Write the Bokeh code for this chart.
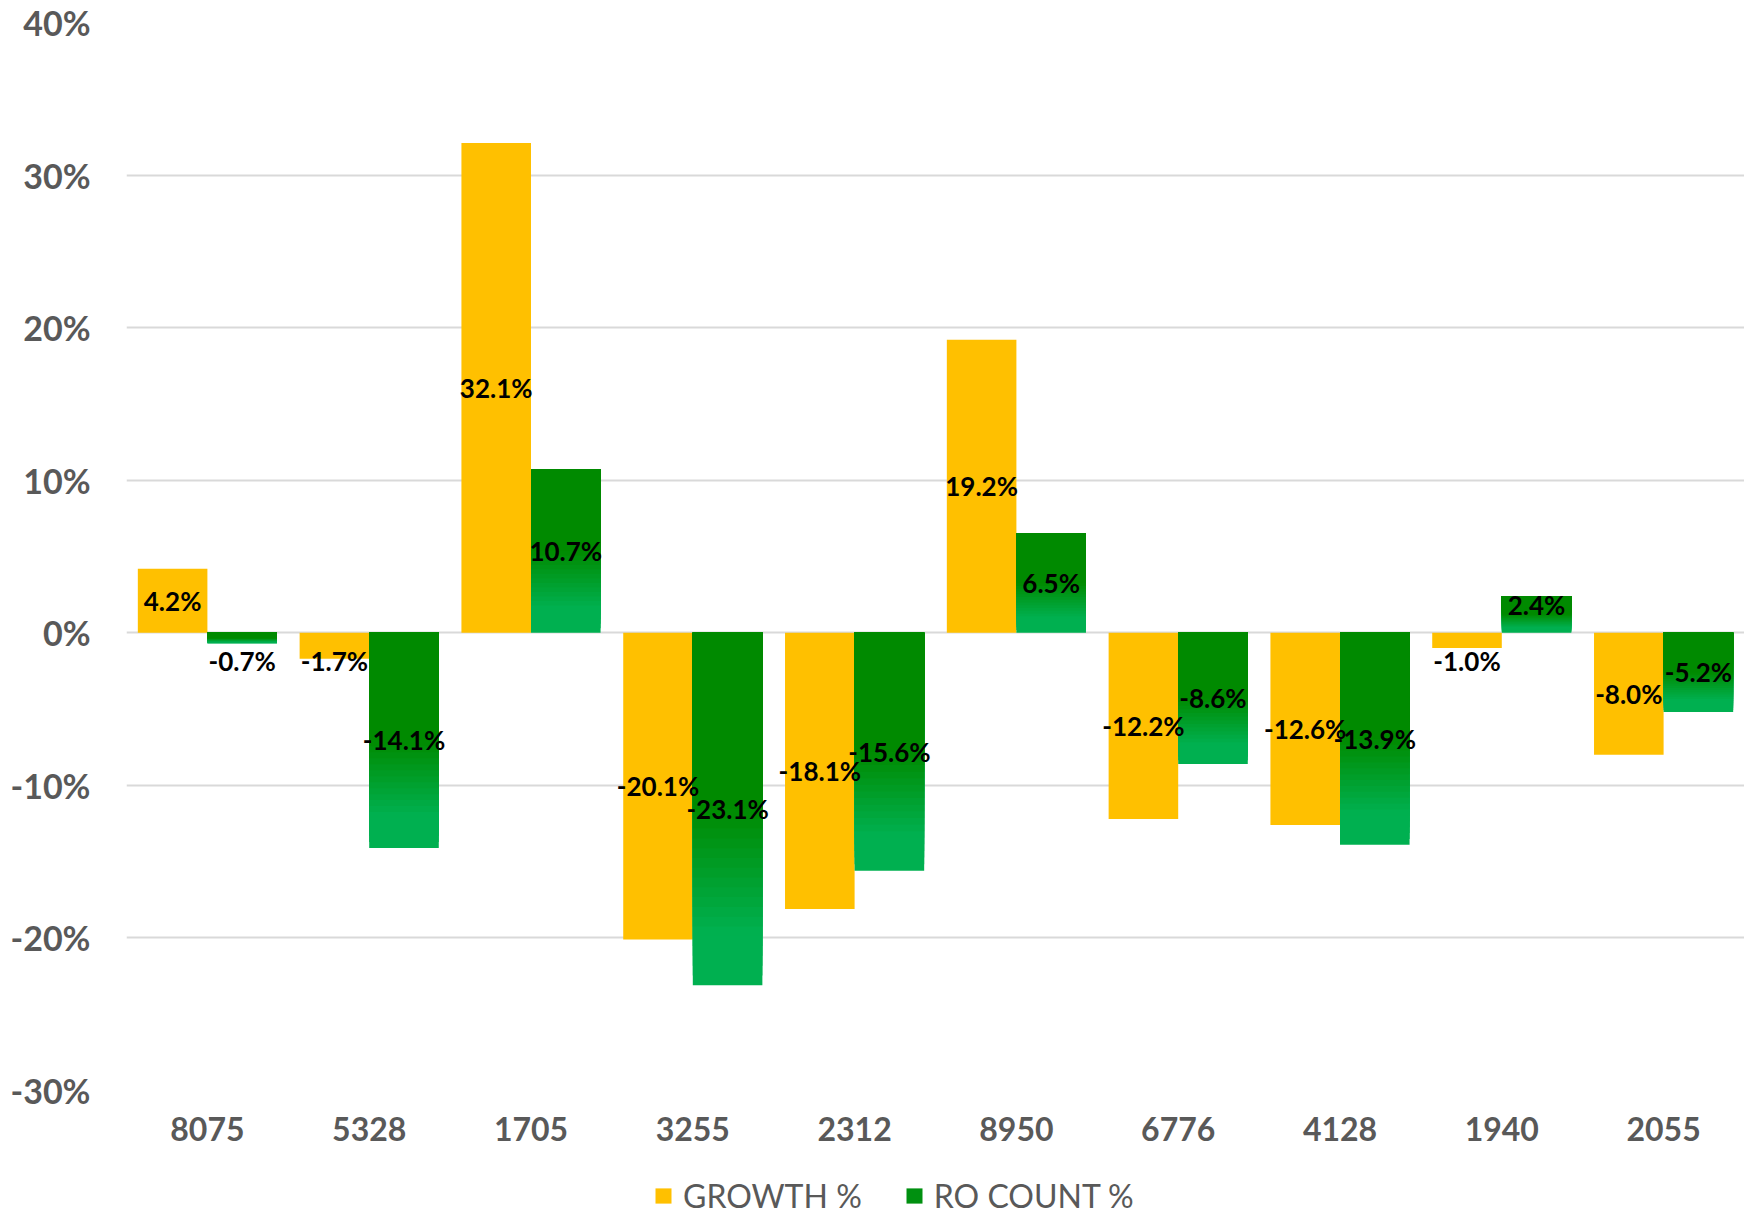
from bokeh.plotting import figure
from bokeh.layouts import column
from bokeh.models import (ColumnDataSource, FactorRange, FixedTicker, PrintfTickFormatter,
                          Legend, LegendItem)
from bokeh.transform import dodge
from bokeh.core.properties import value
from bokeh.embed import file_html
from bokeh.resources import INLINE

categories = ["8075", "5328", "1705", "3255", "2312", "8950", "6776", "4128", "1940", "2055"]
growth_pct = [4.2, -1.7, 32.1, -20.1, -18.1, 19.2, -12.2, -12.6, -1.0, -8.0]
ro_count_pct = [-0.7, -14.1, 10.7, -23.1, -15.6, 6.5, -8.6, -13.9, 2.4, -5.2]
y_ticks = [-30, -20, -10, 0, 10, 20, 30, 40]
series_names = ["GROWTH %", "RO COUNT %"]

YELLOW = "#FFC000"
DARK_GREEN = (0, 138, 0)
LIGHT_GREEN = (0, 176, 80)
AXIS_GRAY = "#595959"
FONT = "Lato"
BAR_W = 0.43
OFFSET = 0.215
MIN_LABEL_OFFSET = 1.85  # keep labels clear of zero line (data units)


def lerp_color(t):
    # gradient top -> bottom: dark until 0.5, then to light at 0.85
    if t <= 0.5:
        f = 0.0
    elif t >= 0.85:
        f = 1.0
    else:
        f = (t - 0.5) / 0.35
    r = round(DARK_GREEN[0] + (LIGHT_GREEN[0] - DARK_GREEN[0]) * f)
    g = round(DARK_GREEN[1] + (LIGHT_GREEN[1] - DARK_GREEN[1]) * f)
    b = round(DARK_GREEN[2] + (LIGHT_GREEN[2] - DARK_GREEN[2]) * f)
    return "#%02x%02x%02x" % (r, g, b)


p = figure(width=1744, height=1160, x_range=FactorRange(*categories), y_range=(-30, 40),
           output_backend="svg", toolbar_location=None,
           min_border_left=126, min_border_right=0, min_border_top=22, min_border_bottom=70)
p.outline_line_color = None
p.background_fill_color = "white"
p.border_fill_color = "white"

# growth bars
gsrc = ColumnDataSource(dict(cat=categories, val=growth_pct))
p.vbar(x=dodge("cat", -OFFSET, range=p.x_range), top="val", bottom=0, width=BAR_W,
       source=gsrc, fill_color=YELLOW, line_color=None)

# RO count bars with vertical gradient: nested rects sharing the top edge,
# drawn longest (lightest) first so no seams appear
N = 36
s_cat, s_top, s_bot, s_col = [], [], [], []
for k in range(N, 0, -1):
    t = k / N
    for c, v in zip(categories, ro_count_pct):
        hi, lo = max(v, 0.0), min(v, 0.0)
        s_cat.append(c)
        s_top.append(hi)
        s_bot.append(hi - (hi - lo) * t)
        s_col.append(lerp_color(t - 0.5 / N))
ssrc = ColumnDataSource(dict(cat=s_cat, top=s_top, bottom=s_bot, color=s_col))
p.vbar(x=dodge("cat", OFFSET, range=p.x_range), top="top", bottom="bottom", width=BAR_W,
       source=ssrc, fill_color="color", line_color=None)


def label_y(v):
    half = v / 2.0
    if abs(half) < MIN_LABEL_OFFSET:
        return MIN_LABEL_OFFSET if v >= 0 else -MIN_LABEL_OFFSET
    return half


lsrc_g = ColumnDataSource(dict(cat=categories, y=[label_y(v) for v in growth_pct],
                               txt=["%.1f%%" % v for v in growth_pct]))
lsrc_r = ColumnDataSource(dict(cat=categories, y=[label_y(v) for v in ro_count_pct],
                               txt=["%.1f%%" % v for v in ro_count_pct]))
for src, off in ((lsrc_g, -OFFSET), (lsrc_r, OFFSET)):
    p.text(x=dodge("cat", off, range=p.x_range), y="y", text="txt", source=src,
           text_align="center", text_baseline="middle", text_color="black",
           text_font=value(FONT), text_font_size="26px", text_font_style="bold")

# axes
p.yaxis.ticker = FixedTicker(ticks=y_ticks)
p.yaxis.formatter = PrintfTickFormatter(format="%d%%")
p.yaxis.axis_line_color = None
p.yaxis.major_tick_line_color = None
p.yaxis.minor_tick_line_color = None
p.yaxis.major_label_text_font = FONT
p.yaxis.major_label_text_font_size = "34px"
p.yaxis.major_label_text_font_style = "bold"
p.yaxis.major_label_text_color = AXIS_GRAY
p.yaxis.major_label_standoff = 30

p.xaxis.axis_line_color = None
p.xaxis.major_tick_line_color = None
p.xaxis.minor_tick_line_color = None
p.xaxis.major_label_text_font = FONT
p.xaxis.major_label_text_font_size = "32px"
p.xaxis.major_label_text_font_style = "bold"
p.xaxis.major_label_text_color = AXIS_GRAY
p.xaxis.major_label_standoff = 20

p.xgrid.grid_line_color = None
p.ygrid.grid_line_color = "#d9d9d9"
p.ygrid.grid_line_width = 2

# legend strip below the chart
lg = figure(width=1744, height=57, x_range=(0, 1), y_range=(0, 1),
            output_backend="svg", toolbar_location=None,
            min_border_left=0, min_border_right=0, min_border_top=0, min_border_bottom=0)
lg.outline_line_color = None
lg.axis.visible = False
lg.grid.visible = False
proxy = ColumnDataSource(dict(l=[-10.0], r=[-9.0], b=[-10.0], t=[-9.0]))
r1 = lg.quad(left="l", right="r", bottom="b", top="t", source=proxy,
             fill_color=YELLOW, line_color=None)
r2 = lg.quad(left="l", right="r", bottom="b", top="t", source=proxy,
             fill_color="#009010", line_color=None)
legend = Legend(items=[LegendItem(label=series_names[0], renderers=[r1]),
                       LegendItem(label=series_names[1], renderers=[r2])],
                orientation="horizontal", location=(527, 2),
                label_text_font=FONT, label_text_font_size="32px",
                label_text_color=AXIS_GRAY, glyph_width=20, glyph_height=19,
                label_standoff=10, spacing=42, border_line_color=None,
                background_fill_alpha=0, padding=0, margin=0)
lg.add_layout(legend, "center")

open("out.html", "w").write(file_html(column(p, lg, spacing=0), INLINE))
